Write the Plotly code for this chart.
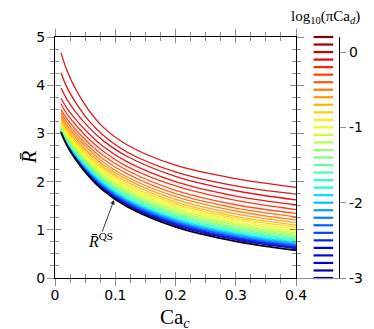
import numpy as np
import plotly.graph_objects as go

# capillary number of the continuous phase (sample points along each curve)
ca_c = [0.01, 0.02, 0.035, 0.055, 0.08, 0.12, 0.2, 0.3, 0.4]

# colour levels, log10(pi Ca_d), from top curve to bottom curve
levels = [0.2, 0.1, 0.0, -0.1, -0.2, -0.3, -0.4, -0.5, -0.6, -0.7, -0.8,
          -0.9, -1.0, -1.1, -1.2, -1.3, -1.4, -1.5, -1.6, -1.7, -1.8, -1.9,
          -2.0, -2.1, -2.2, -2.3, -2.4, -2.5, -2.6, -2.7, -2.8, -2.9, -3.0]

# R bar for each level (rows follow `levels`)
r_curves = [
    [4.67, 4.30, 3.90, 3.50, 3.13, 2.76, 2.34, 2.06, 1.88],
    [4.26, 3.95, 3.63, 3.28, 2.96, 2.61, 2.20, 1.91, 1.74],
    [3.94, 3.70, 3.43, 3.14, 2.85, 2.52, 2.11, 1.81, 1.62],
    [3.73, 3.52, 3.28, 3.01, 2.73, 2.41, 2.00, 1.70, 1.52],
    [3.61, 3.40, 3.17, 2.90, 2.63, 2.31, 1.91, 1.61, 1.42],
    [3.50, 3.30, 3.07, 2.81, 2.54, 2.23, 1.82, 1.52, 1.34],
    [3.43, 3.23, 3.00, 2.74, 2.47, 2.16, 1.75, 1.45, 1.27],
    [3.37, 3.17, 2.94, 2.68, 2.40, 2.09, 1.69, 1.39, 1.20],
    [3.32, 3.12, 2.89, 2.62, 2.35, 2.04, 1.63, 1.33, 1.15],
    [3.28, 3.08, 2.84, 2.58, 2.30, 1.99, 1.58, 1.28, 1.10],
    [3.24, 3.03, 2.80, 2.53, 2.26, 1.94, 1.54, 1.24, 1.05],
    [3.21, 3.00, 2.76, 2.50, 2.22, 1.90, 1.50, 1.20, 1.01],
    [3.19, 2.97, 2.73, 2.46, 2.19, 1.87, 1.46, 1.16, 0.98],
    [3.17, 2.95, 2.71, 2.43, 2.15, 1.83, 1.43, 1.13, 0.94],
    [3.15, 2.93, 2.68, 2.41, 2.12, 1.80, 1.40, 1.10, 0.91],
    [3.13, 2.91, 2.66, 2.38, 2.10, 1.78, 1.37, 1.07, 0.88],
    [3.12, 2.89, 2.64, 2.36, 2.07, 1.75, 1.34, 1.04, 0.86],
    [3.11, 2.88, 2.62, 2.34, 2.05, 1.73, 1.32, 1.02, 0.83],
    [3.10, 2.86, 2.60, 2.32, 2.03, 1.70, 1.29, 0.99, 0.81],
    [3.09, 2.85, 2.59, 2.30, 2.01, 1.68, 1.27, 0.97, 0.79],
    [3.08, 2.84, 2.57, 2.28, 1.99, 1.66, 1.25, 0.95, 0.77],
    [3.07, 2.83, 2.56, 2.27, 1.97, 1.64, 1.23, 0.93, 0.75],
    [3.06, 2.82, 2.55, 2.25, 1.96, 1.63, 1.22, 0.92, 0.73],
    [3.06, 2.81, 2.54, 2.24, 1.94, 1.61, 1.20, 0.90, 0.72],
    [3.05, 2.81, 2.53, 2.23, 1.93, 1.60, 1.19, 0.89, 0.70],
    [3.05, 2.80, 2.52, 2.22, 1.92, 1.59, 1.17, 0.87, 0.69],
    [3.04, 2.79, 2.51, 2.21, 1.90, 1.57, 1.16, 0.86, 0.67],
    [3.04, 2.79, 2.50, 2.20, 1.90, 1.56, 1.15, 0.85, 0.66],
    [3.04, 2.78, 2.49, 2.19, 1.88, 1.55, 1.13, 0.83, 0.65],
    [3.03, 2.78, 2.49, 2.18, 1.87, 1.54, 1.12, 0.82, 0.64],
    [3.03, 2.77, 2.48, 2.17, 1.86, 1.53, 1.11, 0.81, 0.63],
    [3.03, 2.77, 2.47, 2.16, 1.86, 1.52, 1.10, 0.80, 0.62],
    [3.03, 2.76, 2.47, 2.15, 1.85, 1.51, 1.09, 0.79, 0.61],
]

# quasi-static limit (black curve)
r_qs = [3.02, 2.75, 2.45, 2.13, 1.82, 1.48, 1.06, 0.76, 0.575]

cbar_ticks = [0, -1, -2, -3]
cbar_ticktext = ["0", "-1", "-2", "-3"]

LMIN, LMAX = -3.0, 0.2
TICK_GREY = "#8f8f8f"
SERIF = "Liberation Serif, DejaVu Serif, serif"
SANS = "DejaVu Sans, Verdana, sans-serif"

W, H = 374, 329
PAGE_OFF = 8  # the page body margin shifts the figure by this much


# screen pixel -> paper fraction
def fx(p):
    return (p - PAGE_OFF) / W


def fy(p):
    return (H - (p - PAGE_OFF)) / H


# matplotlib style jet colormap, optionally washed towards white
def jet(v, wash=0.0):
    f = (v - LMIN) / (LMAX - LMIN)
    r = np.interp(f, [0, 0.35, 0.66, 0.89, 1], [0, 0, 1, 1, 0.5])
    g = np.interp(f, [0, 0.125, 0.375, 0.64, 0.91, 1], [0, 0, 1, 1, 0, 0])
    b = np.interp(f, [0, 0.11, 0.34, 0.65, 1], [0.5, 1, 1, 0, 0])
    rgb = [(c + (1 - c) * wash) * 255 for c in (r, g, b)]
    return "rgb(%d,%d,%d)" % tuple(rgb)


dash_colors = [jet(l) for l in levels]
# thin curves read a bit lighter and the darkest reds read as plain red
line_colors = [jet(min(l, -0.05), 0.1) for l in levels]

fig = go.Figure()

# curves, lowest level first so the red ones sit on top
for row, col in reversed(list(zip(r_curves, line_colors))):
    fig.add_trace(go.Scatter(x=ca_c, y=row, mode="lines",
                             line=dict(color=col, width=1.3, shape="spline"),
                             showlegend=False, hoverinfo="skip"))

fig.add_trace(go.Scatter(x=ca_c, y=r_qs, mode="lines",
                         line=dict(color="#050520", width=2.0, shape="spline"),
                         showlegend=False, hoverinfo="skip"))

# discrete colour bar: one dash per level
fig.add_trace(go.Scatter(x=[0.6] * len(levels), y=levels, mode="markers",
                         marker=dict(symbol="line-ew", size=14,
                                     line=dict(color=dash_colors, width=2.2)),
                         xaxis="x2", yaxis="y2", cliponaxis=False,
                         showlegend=False, hoverinfo="skip"))

# dummy trace so the inner-tick overlay axes get drawn
fig.add_trace(go.Scatter(x=[None], y=[None], xaxis="x3", yaxis="y3",
                         showlegend=False))

XDOM = [fx(55), fx(296)]
YDOM = [fy(278), fy(37)]

common = dict(showgrid=False, zeroline=False, tickcolor=TICK_GREY, automargin=False,
              tickfont=dict(family=SANS, size=14, color="black"))

fig.update_layout(
    width=W, height=H,
    margin=dict(l=0, r=0, t=0, b=0, autoexpand=False),
    paper_bgcolor="white", plot_bgcolor="white",
    xaxis=dict(domain=XDOM, range=[0, 0.4], dtick=0.1, tick0=0,
               showline=True, linecolor="black", linewidth=1.2, mirror="allticks",
               ticks="outside", ticklen=7, tickwidth=1, ticklabelstandoff=-3,
               minor=dict(ticks="outside", ticklen=4, dtick=0.025, tickcolor=TICK_GREY),
               **common),
    yaxis=dict(domain=YDOM, range=[0, 5], dtick=1, tick0=0,
               showline=True, linecolor="black", linewidth=1.2, mirror="allticks",
               ticks="outside", ticklen=7, tickwidth=1, ticklabelstandoff=-1,
               minor=dict(ticks="outside", ticklen=4, dtick=0.25, tickcolor=TICK_GREY),
               **common),
    xaxis3=dict(overlaying="x", anchor="y", range=[0, 0.4], dtick=0.1, tick0=0,
                ticks="inside", ticklen=6, mirror="allticks", showticklabels=False,
                showline=False, showgrid=False, zeroline=False, tickcolor=TICK_GREY,
                automargin=False,
                minor=dict(ticks="inside", ticklen=4, dtick=0.025, tickcolor=TICK_GREY)),
    yaxis3=dict(overlaying="y", anchor="x", range=[0, 5], dtick=1, tick0=0,
                ticks="inside", ticklen=6, mirror="allticks", showticklabels=False,
                showline=False, showgrid=False, zeroline=False, tickcolor=TICK_GREY,
                automargin=False,
                minor=dict(ticks="inside", ticklen=4, dtick=0.25, tickcolor=TICK_GREY)),
    xaxis2=dict(domain=[fx(300), fx(339)], anchor="y2", range=[0, 1],
                showticklabels=False, ticks="", showgrid=False, zeroline=False,
                showline=True, linecolor=TICK_GREY, linewidth=1, automargin=False),
    yaxis2=dict(domain=YDOM, anchor="x2", side="right", range=[LMIN, LMAX],
                tickvals=cbar_ticks, ticktext=cbar_ticktext,
                showline=True, linecolor="black", linewidth=1.2,
                ticks="outside", ticklen=6, tickwidth=1, **common),
)

annotations = [
    dict(text="Ca<sub><i>c</i></sub>", x=fx(175), y=fy(318),
         xref="paper", yref="paper", xanchor="center", yanchor="middle", showarrow=False,
         font=dict(family=SERIF, size=21, color="black")),
    dict(text="<i>R̄</i>", x=fx(29), y=fy(158), textangle=-90,
         xref="paper", yref="paper", xanchor="center", yanchor="middle", showarrow=False,
         font=dict(family=SERIF, size=20, color="black")),
    dict(text="log<sub>10</sub>(πCa<sub><i>d</i></sub>)", x=fx(325), y=fy(17),
         xref="paper", yref="paper", xanchor="center", yanchor="middle", showarrow=False,
         font=dict(family=SERIF, size=15, color="black")),
    dict(text="", x=0.098, y=1.62, ax=0.0775, ay=0.93, xref="x", yref="y",
         axref="x", ayref="y", showarrow=True, arrowhead=2, arrowsize=1,
         arrowwidth=0.9, arrowcolor="#222"),
    dict(text="<i>R̄</i><sup>QS</sup>", x=0.075, y=0.78, xref="x", yref="y",
         xanchor="center", yanchor="middle",
         showarrow=False, font=dict(family=SERIF, size=16, color="black")),
]
fig.update_layout(annotations=annotations)

fig.write_html("out.html")
